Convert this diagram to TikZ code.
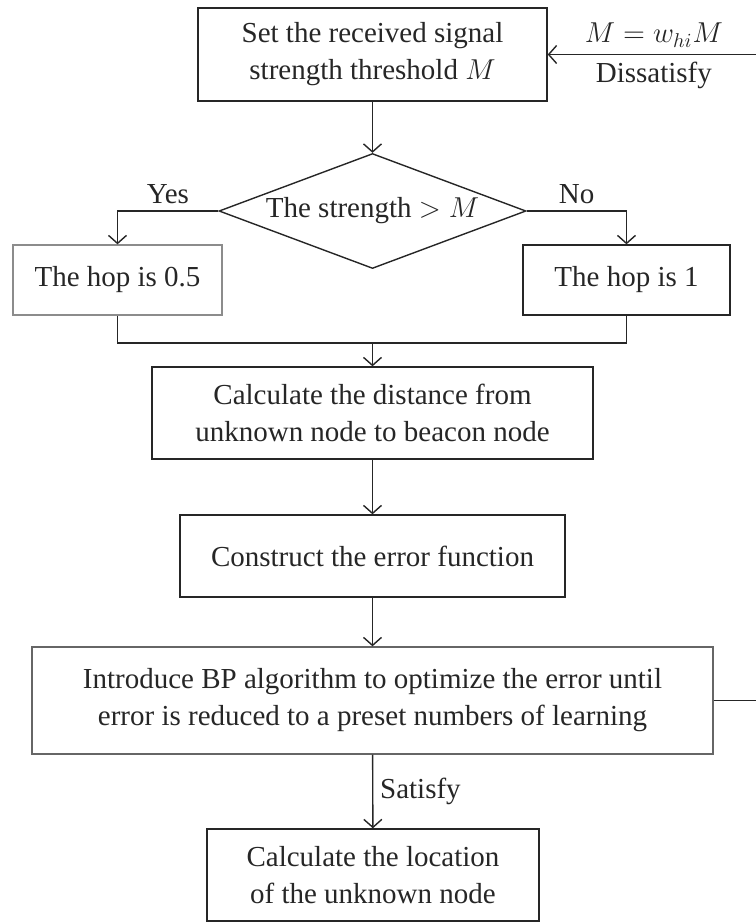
\documentclass[tikz,border=0pt]{standalone}
\usepackage{fontspec}
\setmainfont{Liberation Serif}
\usetikzlibrary{shapes.geometric,arrows.meta}

\begin{document}
\begin{tikzpicture}[x=0.5pt,y=-0.5pt,line width=0.7pt,color=black!85,
  >={Straight Barb[length=4pt,width=9pt]},->,
  font=\fontsize{14.5}{18.5}\selectfont,
  box/.style={draw,rectangle,align=center,inner sep=0pt},
  test/.style={draw,diamond,aspect=2.67,inner sep=0pt}]
\useasboundingbox (0,0) rectangle (756,923);

\node[box,minimum width=174.5pt,minimum height=46.5pt] (ST) at (372.5,54.5) {Set the received signal\\strength threshold $M$};

\node[test,minimum width=153.5pt,minimum height=57.5pt] (TS) at (372.5,211) {The strength $> M$};

\node[box,draw=black!45,minimum width=104.5pt,minimum height=35pt] (HA) at (117.5,280) {The hop is 0.5};
\node[box,minimum width=103.5pt,minimum height=35pt] (HB) at (626.5,280) {The hop is 1};

\node[box,minimum width=220.5pt,minimum height=46pt] (DI) at (372.5,413) {Calculate the distance from\\unknown node to beacon node};

\node[box,minimum width=192.5pt,minimum height=41pt] (EF) at (372.5,556) {Construct the error function};

\node[box,draw=black!60,minimum width=340.5pt,minimum height=53.5pt] (BP) at (372.5,700.5) {Introduce BP algorithm to optimize the error until\\error is reduced to a preset numbers of learning};

\node[box,minimum width=166pt,minimum height=46pt] (LO) at (373,875) {Calculate the location\\of the unknown node};

\coordinate (MG) at (372.5,343);
\coordinate (FB) at (760,700.5);

\draw (ST) to (TS);
\draw (TS.west) -| node[pos=0.25,above]{Yes} (HA);
\draw (TS.east) -| node[pos=0.25,above]{No} (HB);
\draw[-] (HA) |- (MG);
\draw[-] (HB) |- (MG);
\draw (MG) to (DI);
\draw (DI) to (EF);
\draw (EF) to (BP);
\draw (BP) to node[right]{Satisfy} (LO);
\draw (BP.east) -- (FB) |- node[pos=0.75,above]{$M = w_{hi}M$} node[pos=0.75,below]{Dissatisfy} (ST.east);

\end{tikzpicture}
\end{document}
